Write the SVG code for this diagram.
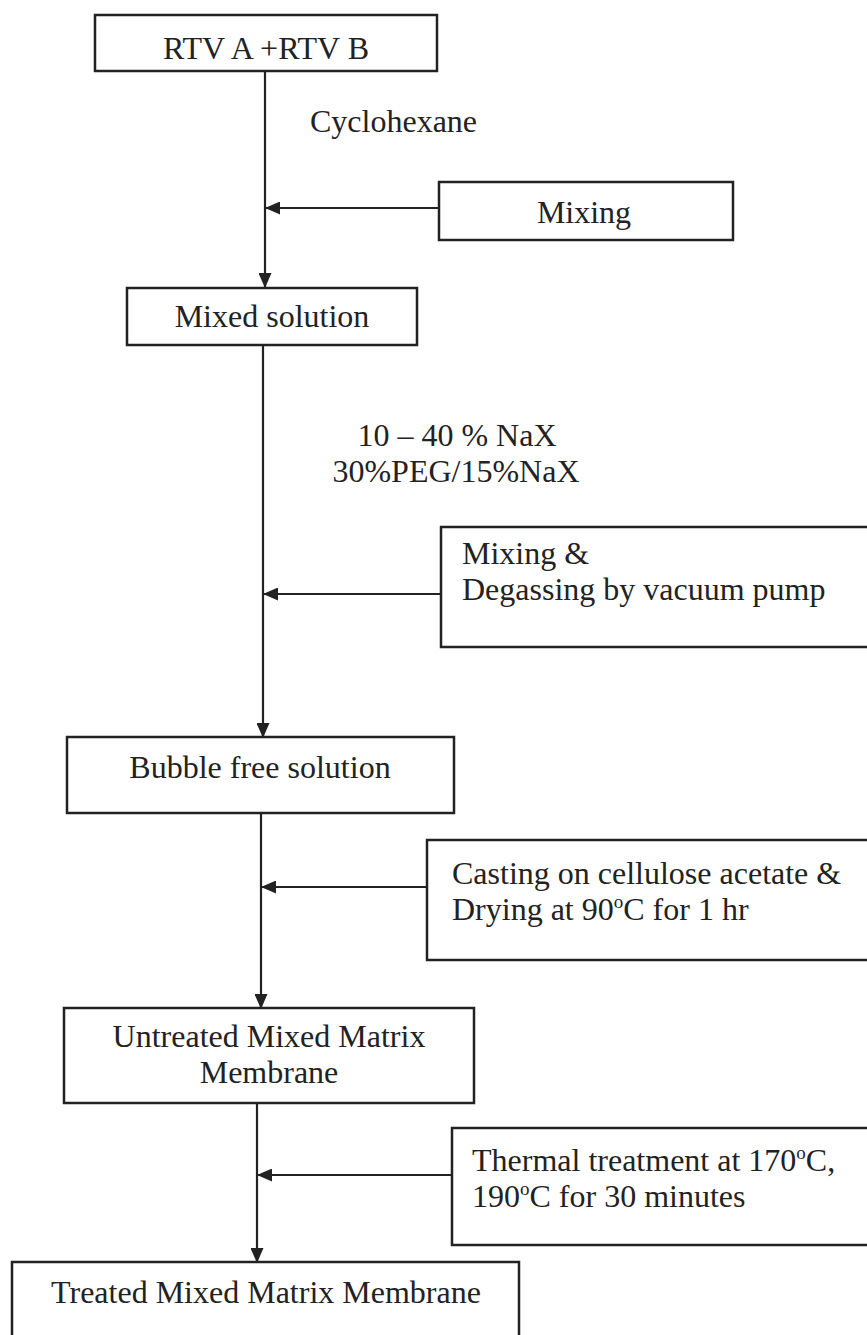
<svg xmlns="http://www.w3.org/2000/svg" width="867" height="1335" viewBox="0 0 867 1335">
<style>
.box{fill:#fff;stroke:#222;stroke-width:2.5}
.t{font-size:32px;fill:#222}
.c{text-anchor:middle}
.ln{stroke:#222;stroke-width:2.2;fill:none}
</style>
<defs>
<marker id="ah" markerWidth="15" markerHeight="13" refX="14" refY="6.5" orient="auto" markerUnits="userSpaceOnUse">
<path d="M0,0 L15,6.5 L0,13 z" fill="#222"/>
</marker>
</defs>
<rect width="867" height="1335" fill="#fff"/>
<g font-family="Liberation Serif, Times New Roman, serif">
<g id="connectors">
<line class="ln" x1="265" y1="71" x2="265" y2="287" marker-end="url(#ah)"/>
<line class="ln" x1="439" y1="208" x2="266" y2="208" marker-end="url(#ah)"/>
<line class="ln" x1="263" y1="345" x2="263" y2="737" marker-end="url(#ah)"/>
<line class="ln" x1="441" y1="594" x2="264" y2="594" marker-end="url(#ah)"/>
<line class="ln" x1="261" y1="813" x2="261" y2="1008" marker-end="url(#ah)"/>
<line class="ln" x1="427" y1="887" x2="262" y2="887" marker-end="url(#ah)"/>
<line class="ln" x1="257" y1="1103" x2="257" y2="1262" marker-end="url(#ah)"/>
<line class="ln" x1="452" y1="1175" x2="258" y2="1175" marker-end="url(#ah)"/>
<text class="t" x="310" y="132">Cyclohexane</text>
<text class="t c" x="457" y="446">10 – 40 % NaX</text>
<text class="t c" x="456" y="482">30%PEG/15%NaX</text>
</g>
<g id="n-rtv">
<rect class="box" x="95" y="15" width="342" height="56"/>
<text class="t c" x="266" y="59">RTV A +RTV B</text>
</g>
<g id="n-mixing">
<rect class="box" x="439" y="182" width="294" height="58"/>
<text class="t c" x="584" y="223">Mixing</text>
</g>
<g id="n-mixed">
<rect class="box" x="127" y="288" width="290" height="57"/>
<text class="t c" x="272" y="327">Mixed solution</text>
</g>
<g id="n-degas">
<rect class="box" x="441" y="527" width="430" height="120"/>
<text class="t" x="462" y="564">Mixing &amp;</text>
<text class="t" x="462" y="600">Degassing by vacuum pump</text>
</g>
<g id="n-bubble">
<rect class="box" x="67" y="737" width="387" height="76"/>
<text class="t c" x="260" y="778">Bubble free solution</text>
</g>
<g id="n-casting">
<rect class="box" x="427" y="840" width="444" height="120"/>
<text class="t" x="452" y="884">Casting on cellulose acetate &amp;</text>
<text class="t" x="452" y="920">Drying at 90<tspan font-size="19" dy="-12">o</tspan><tspan dy="12">C for 1 hr</tspan></text>
</g>
<g id="n-untreated">
<rect class="box" x="64" y="1008" width="410" height="95"/>
<text class="t c" x="269" y="1047">Untreated Mixed Matrix</text>
<text class="t c" x="269" y="1083">Membrane</text>
</g>
<g id="n-thermal">
<rect class="box" x="452" y="1128" width="419" height="117"/>
<text class="t" x="472" y="1171">Thermal treatment at 170<tspan font-size="19" dy="-12">o</tspan><tspan dy="12">C,</tspan></text>
<text class="t" x="472" y="1207">190<tspan font-size="19" dy="-12">o</tspan><tspan dy="12">C for 30 minutes</tspan></text>
</g>
<g id="n-treated">
<rect class="box" x="12" y="1262" width="507" height="90"/>
<text class="t c" x="266" y="1303">Treated Mixed Matrix Membrane</text>
</g>
</g>
</svg>
